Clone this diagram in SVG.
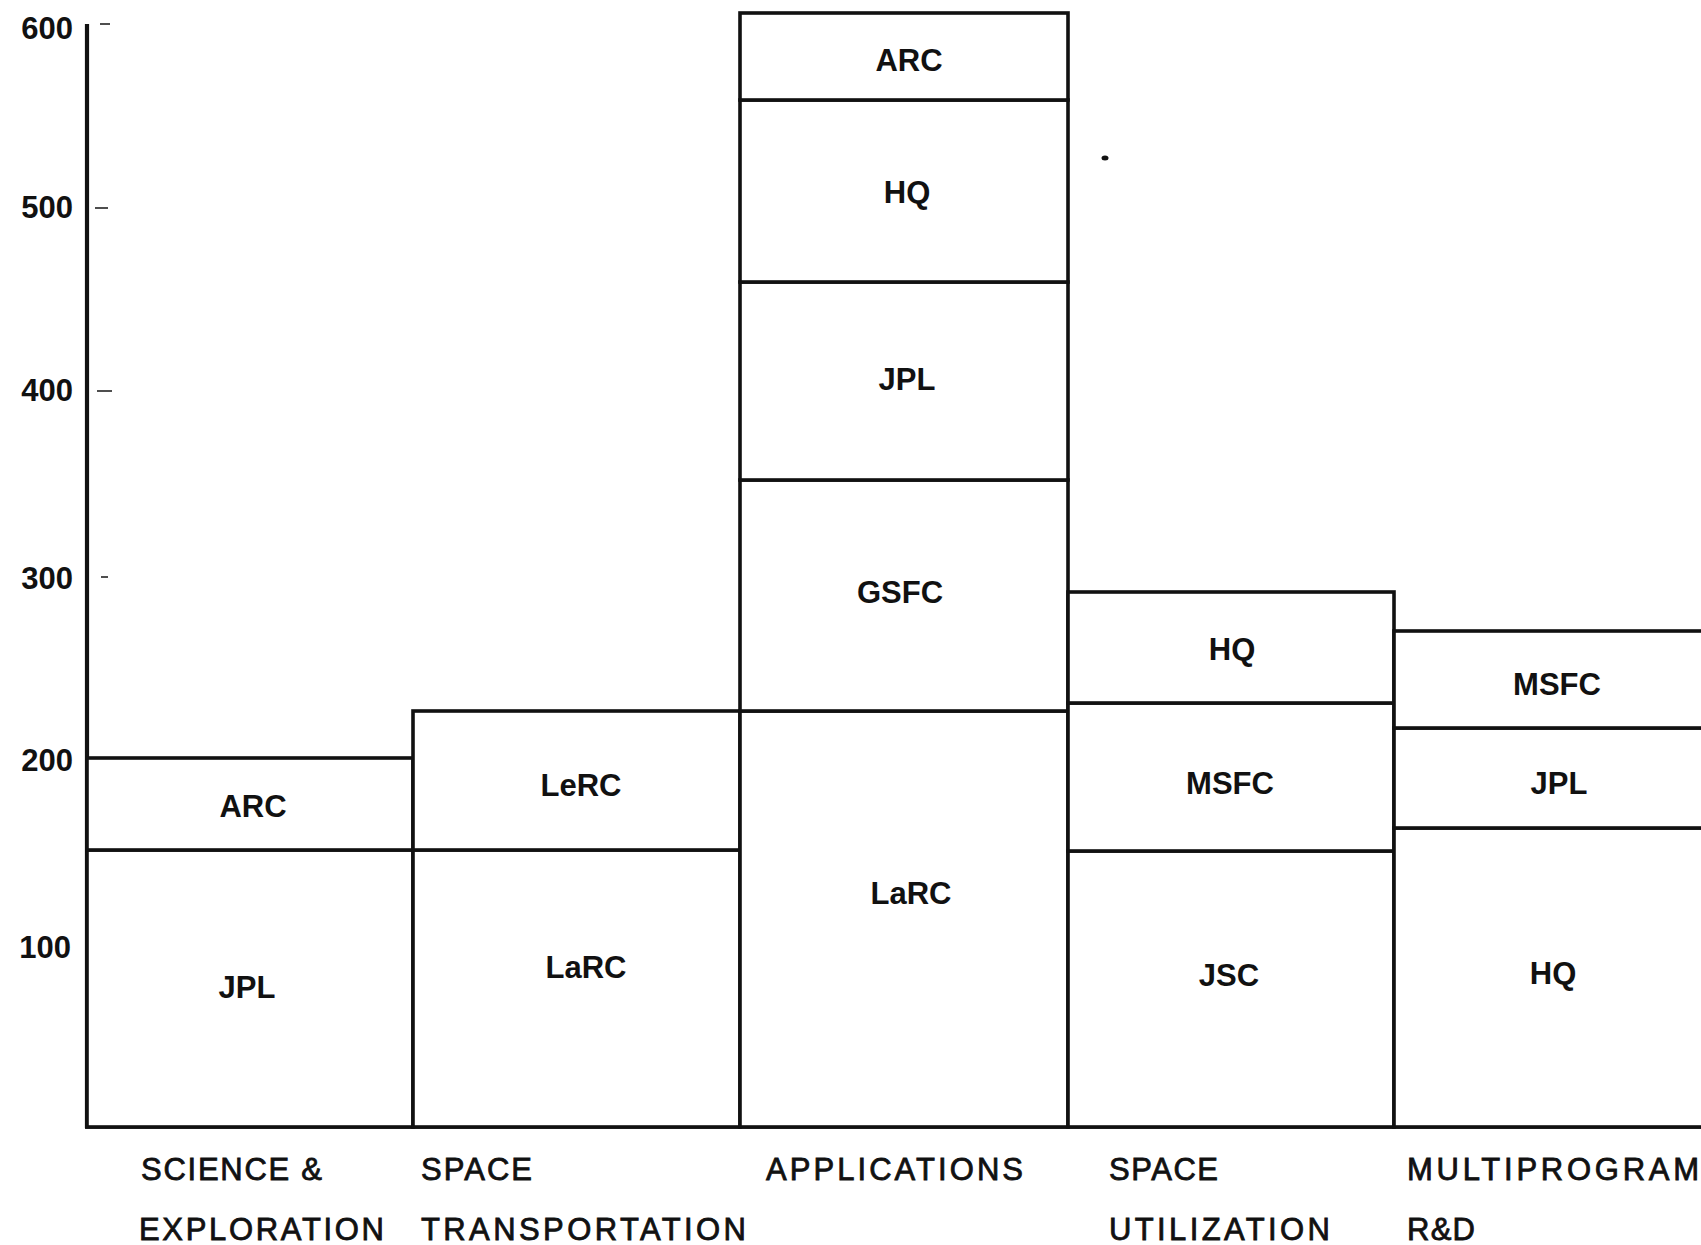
<svg xmlns="http://www.w3.org/2000/svg" width="1701" height="1245" viewBox="0 0 1701 1245">
<style>
  .seg{fill:#fff;stroke:#111;stroke-width:3.6}
  .ax{stroke:#111;stroke-width:4.2;fill:none}
  .tk{stroke:#222;stroke-width:1.6}
  .lbl{font-family:"Liberation Sans",Arial,sans-serif;font-weight:bold;font-size:31px;fill:#111;text-anchor:middle}
  .num{font-family:"Liberation Sans",Arial,sans-serif;font-weight:bold;font-size:31px;fill:#111;text-anchor:end}
  .cat{font-family:"Liberation Sans",Arial,sans-serif;font-size:31px;fill:#111;stroke:#111;stroke-width:0.8}
</style>
<rect width="1701" height="1245" fill="#fff"/>

<g id="axis">
  <line class="ax" x1="87" y1="24" x2="87" y2="1128"/>
  <line class="ax" x1="85" y1="1127" x2="1701" y2="1127" style="stroke-width:3.4"/>
  <line class="tk" x1="100" y1="24" x2="110" y2="24"/>
  <line class="tk" x1="95" y1="208" x2="108" y2="208"/>
  <line class="tk" x1="97" y1="391" x2="112" y2="391"/>
  <line class="tk" x1="101" y1="577" x2="108" y2="577"/>
  <line class="tk" x1="96" y1="943" x2="104" y2="943"/>
  <text class="num" x="73" y="39">600</text>
  <text class="num" x="73" y="218">500</text>
  <text class="num" x="73" y="401">400</text>
  <text class="num" x="73" y="589">300</text>
  <text class="num" x="73" y="771">200</text>
  <text class="num" x="71" y="958">100</text>
</g>

<g id="bar-science">
  <rect id="sci-jpl" class="seg" x="87" y="850" width="326" height="277"/>
  <rect id="sci-arc" class="seg" x="87" y="758" width="326" height="92"/>
  <text class="lbl" x="253" y="817">ARC</text>
  <text class="lbl" x="247" y="998">JPL</text>
</g>

<g id="bar-transportation">
  <rect id="tr-larc" class="seg" x="413" y="850" width="327" height="277"/>
  <rect id="tr-lerc" class="seg" x="413" y="711" width="327" height="139"/>
  <text class="lbl" x="581" y="796">LeRC</text>
  <text class="lbl" x="586" y="978">LaRC</text>
</g>

<g id="bar-applications">
  <rect id="ap-larc" class="seg" x="740" y="711" width="328" height="416"/>
  <rect id="ap-gsfc" class="seg" x="740" y="480" width="328" height="231"/>
  <rect id="ap-jpl" class="seg" x="740" y="282" width="328" height="198"/>
  <rect id="ap-hq" class="seg" x="740" y="100" width="328" height="182"/>
  <rect id="ap-arc" class="seg" x="740" y="13" width="328" height="87"/>
  <text class="lbl" x="909" y="71">ARC</text>
  <text class="lbl" x="907" y="203">HQ</text>
  <text class="lbl" x="907" y="390">JPL</text>
  <text class="lbl" x="900" y="603">GSFC</text>
  <text class="lbl" x="911" y="904">LaRC</text>
</g>

<g id="bar-utilization">
  <rect id="ut-jsc" class="seg" x="1068" y="851" width="326" height="276"/>
  <rect id="ut-msfc" class="seg" x="1068" y="703" width="326" height="148"/>
  <rect id="ut-hq" class="seg" x="1068" y="592" width="326" height="111"/>
  <text class="lbl" x="1232" y="660">HQ</text>
  <text class="lbl" x="1230" y="794">MSFC</text>
  <text class="lbl" x="1229" y="986">JSC</text>
</g>

<g id="bar-multiprogram">
  <rect id="mp-hq" class="seg" x="1394" y="828" width="320" height="299"/>
  <rect id="mp-jpl" class="seg" x="1394" y="728" width="320" height="100"/>
  <rect id="mp-msfc" class="seg" x="1394" y="631" width="320" height="97"/>
  <text class="lbl" x="1557" y="695">MSFC</text>
  <text class="lbl" x="1559" y="794">JPL</text>
  <text class="lbl" x="1553" y="984">HQ</text>
</g>

<g id="connectors"></g>

<g id="categories">
  <text class="cat" x="141" y="1180" textLength="181" lengthAdjust="spacing">SCIENCE &amp;</text>
  <text class="cat" x="139" y="1240" textLength="245" lengthAdjust="spacing">EXPLORATION</text>
  <text class="cat" x="421" y="1180" textLength="111" lengthAdjust="spacing">SPACE</text>
  <text class="cat" x="421" y="1240" textLength="325" lengthAdjust="spacing">TRANSPORTATION</text>
  <text class="cat" x="766" y="1180" textLength="257" lengthAdjust="spacing">APPLICATIONS</text>
  <text class="cat" x="1109" y="1180" textLength="109" lengthAdjust="spacing">SPACE</text>
  <text class="cat" x="1109" y="1240" textLength="221" lengthAdjust="spacing">UTILIZATION</text>
  <text class="cat" x="1407" y="1180" textLength="292" lengthAdjust="spacing">MULTIPROGRAM</text>
  <text class="cat" x="1407" y="1240" textLength="68" lengthAdjust="spacing">R&amp;D</text>
</g>

<ellipse cx="1105" cy="158" rx="3.5" ry="2.5" fill="#111"/>
</svg>
